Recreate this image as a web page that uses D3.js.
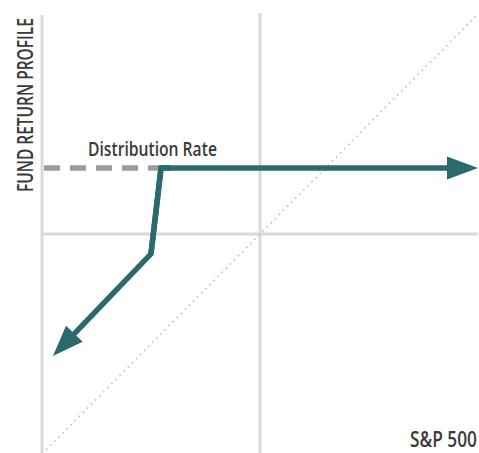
<!DOCTYPE html>
<html>
<head>
<meta charset="utf-8">
<script src="https://cdn.jsdelivr.net/npm/d3@7/dist/d3.min.js"></script>
<style>
  html, body { margin: 0; padding: 0; background: #fff; }
  svg { display: block; }
  text { font-family: "Open Sans", Lato, sans-serif; fill: #3a3a3a; font-weight: 600; }
</style>
</head>
<body>
<svg id="chart" width="479" height="453"></svg>
<script>
// Data (percent-style units, origin at the chart centre)
const distributionRate = 30;
const fundProfile = [[-45.4, 30], [-50, -9], [-95, -55.5]];   // kink top, kink bottom, arrow tip
const upsideLeg = [[-45.4, 30], [100, 30]];                     // flat upside leg
const diagonal = [[-100, -100], [100, 100]];                    // S&P 500 one-for-one reference
const labels = { x: "S&P 500", y: "FUND RETURN PROFILE", rate: "Distribution Rate" };

const svg = d3.select("#chart");
const x = d3.scaleLinear().domain([-100, 100]).range([42, 478]);
const y = d3.scaleLinear().domain([-100, 100]).range([454, 14]);

const grid = "#d9d9d9";
const teal = "#2a6a6c";

// Axes / grid lines
svg.append("line").attr("x1", x(-100)).attr("x2", x(-100)).attr("y1", 15).attr("y2", 453)
  .attr("stroke", grid).attr("stroke-width", 3);
svg.append("line").attr("x1", x(0)).attr("x2", x(0)).attr("y1", 13).attr("y2", 453)
  .attr("stroke", grid).attr("stroke-width", 3);
svg.append("line").attr("x1", x(-100)).attr("x2", 478).attr("y1", y(0)).attr("y2", y(0))
  .attr("stroke", grid).attr("stroke-width", 3);

// Diagonal dotted reference
const line = d3.line().x(d => x(d[0])).y(d => y(d[1]));
svg.append("path").attr("d", line(diagonal))
  .attr("fill", "none").attr("stroke", "#bdbdbd").attr("stroke-width", 1.6)
  .attr("stroke-dasharray", "1.6,4.2");

// Distribution rate dashed line
svg.append("line")
  .attr("x1", x(-100) + 2).attr("x2", x(fundProfile[0][0]))
  .attr("y1", y(distributionRate)).attr("y2", y(distributionRate))
  .attr("stroke", "#9c9c9c").attr("stroke-width", 5.5)
  .attr("stroke-dasharray", "16,10");

// Helper: shorten a polyline's end and draw arrowhead at the tip
const arrowLen = 31, arrowHalf = 11.5;
function drawArrowLine(points) {
  const px = points.map(p => [x(p[0]), y(p[1])]);
  const n = px.length;
  const tip = px[n - 1], prev = px[n - 2];
  const dx = tip[0] - prev[0], dy = tip[1] - prev[1];
  const len = Math.hypot(dx, dy);
  const ux = dx / len, uy = dy / len;
  const base = [tip[0] - ux * arrowLen, tip[1] - uy * arrowLen];
  const shortened = px.slice(0, n - 1).concat([[base[0] + ux * 2, base[1] + uy * 2]]);
  svg.append("path").attr("d", d3.line()(shortened))
    .attr("fill", "none").attr("stroke", teal).attr("stroke-width", 5.5)
    .attr("stroke-linejoin", "miter").attr("stroke-linecap", "butt");
  const nx = -uy, ny = ux;
  const tri = [tip, [base[0] + nx * arrowHalf, base[1] + ny * arrowHalf], [base[0] - nx * arrowHalf, base[1] - ny * arrowHalf]];
  svg.append("path").attr("d", "M" + tri.join("L") + "Z").attr("fill", teal);
}

drawArrowLine(upsideLeg);
drawArrowLine(fundProfile);
// corner join at kink top
svg.append("path")
  .attr("d", d3.line()([[x(fundProfile[1][0]), y(fundProfile[1][1])], [x(upsideLeg[0][0]), y(upsideLeg[0][1])], [x(upsideLeg[0][0]) + 10, y(upsideLeg[0][1])]]))
  .attr("fill", "none").attr("stroke", teal).attr("stroke-width", 5.5).attr("stroke-linejoin", "miter");

// Texts: condensed by horizontal scaling to the reference widths
function condensedText(str, size, anchorX, baseY, width, anchor, rotate) {
  const g = svg.append("g");
  const t = g.append("text").text(str).attr("font-size", size).attr("x", 0).attr("y", 0);
  const natural = t.node().getComputedTextLength();
  const s = width / natural;
  let startX = anchor === "end" ? -width : anchor === "middle" ? -width / 2 : 0;
  g.attr("transform", `translate(${anchorX},${baseY}) rotate(${rotate || 0}) translate(${startX},0) scale(${s},1)`);
  return t;
}
condensedText(labels.rate, 20, 88, 156, 129, "start");
condensedText(labels.x, 21.5, 477, 447, 67, "end");
condensedText(labels.y, 22, 32.5, 105, 174, "middle", -90);
</script>
</body>
</html>
